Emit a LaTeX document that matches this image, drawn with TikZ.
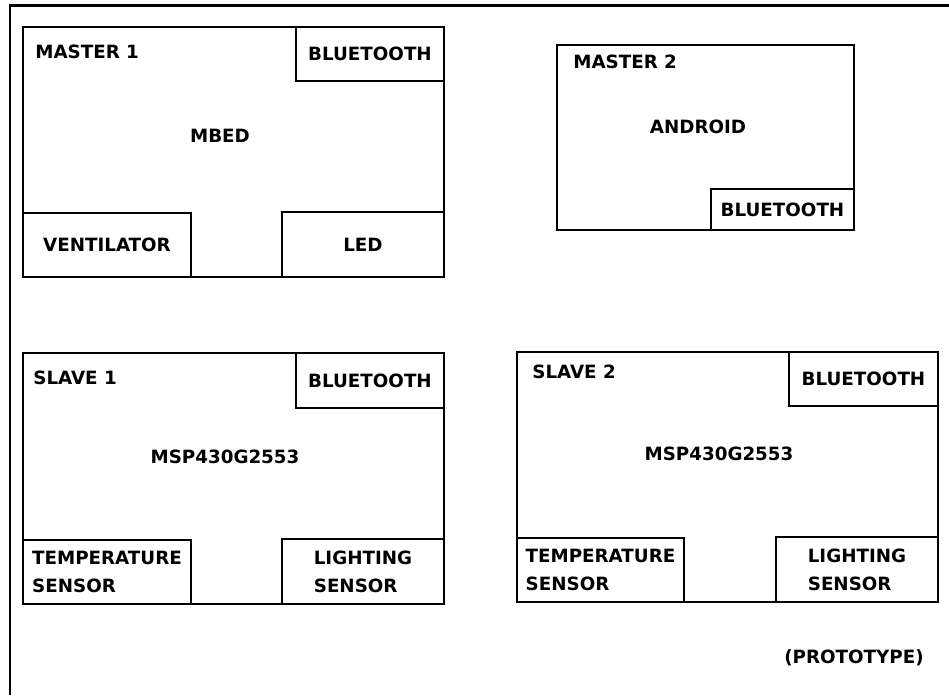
\documentclass[tikz,border=0pt]{standalone}
\usepackage{fontspec}
\setmainfont{DejaVu Sans}
\usepackage{tikz}
\usetikzlibrary{positioning}

\begin{document}
\begin{tikzpicture}[
    board/.style={draw, line width=0.9pt, inner sep=0pt},
    module/.style={draw, line width=0.9pt, inner sep=0pt, align=left,
                   font=\fontsize{10.4}{16}\selectfont\bfseries},
    title/.style={anchor=west, inner sep=0pt, font=\fontsize{10.4}{12}\selectfont\bfseries},
    chip/.style={inner sep=0pt, font=\fontsize{10.4}{12}\selectfont\bfseries}
]
\useasboundingbox (0,0) rectangle (18.98,-13.9);

% --- frame ---
\coordinate (fbl) at (0.2,-13.9);
\coordinate (ftl) at (0.2,-0.11);
\coordinate (ftr) at (18.98,-0.11);
\draw[line width=1.2pt] (fbl) -- (ftl) -- (ftr);

% --- master 1 ---
\node[board, minimum width=8.42cm, minimum height=5.0cm] (m1) at (4.67,-3.04) {};
\node[module, minimum width=2.96cm, minimum height=1.08cm] (m1bt) at (7.40,-1.08) {BLUETOOTH};
\node[module, minimum width=3.36cm, minimum height=1.28cm] (m1vent) at (2.14,-4.90) {VENTILATOR};
\node[module, minimum width=3.24cm, minimum height=1.30cm] (m1led) at (7.26,-4.89) {LED};
\node[title] (m1name) at (0.70,-1.04) {MASTER 1};
\node[chip] (m1chip) at (4.40,-2.72) {MBED};

% --- master 2 ---
\node[board, minimum width=5.94cm, minimum height=3.70cm] (m2) at (14.11,-2.75) {};
\node[module, minimum width=2.86cm, minimum height=0.82cm] (m2bt) at (15.65,-4.19) {BLUETOOTH};
\node[title] (m2name) at (11.46,-1.24) {MASTER 2};
\node[chip] (m2chip) at (13.96,-2.54) {ANDROID};

% --- slave 1 ---
\node[board, minimum width=8.42cm, minimum height=5.02cm] (s1) at (4.67,-9.57) {};
\node[module, minimum width=2.96cm, minimum height=1.10cm] (s1bt) at (7.40,-7.61) {BLUETOOTH};
\node[module, minimum width=3.36cm, minimum height=1.28cm] (s1temp) at (2.14,-11.44) {TEMPERATURE\\SENSOR};
\node[module, minimum width=3.24cm, minimum height=1.30cm] (s1light) at (7.26,-11.43) {LIGHTING\\SENSOR};
\node[title] (s1name) at (0.66,-7.56) {SLAVE 1};
\node[chip] (s1chip) at (4.50,-9.14) {MSP430G2553};

% --- slave 2 ---
\node[board, minimum width=8.42cm, minimum height=5.0cm] (s2) at (14.55,-9.54) {};
\node[module, minimum width=2.98cm, minimum height=1.08cm] (s2bt) at (17.27,-7.58) {BLUETOOTH};
\node[module, minimum width=3.34cm, minimum height=1.28cm] (s2temp) at (12.01,-11.40) {TEMPERATURE\\SENSOR};
\node[module, minimum width=3.24cm, minimum height=1.30cm] (s2light) at (17.14,-11.39) {LIGHTING\\SENSOR};
\node[title] (s2name) at (10.64,-7.44) {SLAVE 2};
\node[chip] (s2chip) at (14.38,-9.08) {MSP430G2553};

% --- note ---
\node[chip] (proto) at (17.08,-13.16) {(PROTOTYPE)};

\end{tikzpicture}
\end{document}
